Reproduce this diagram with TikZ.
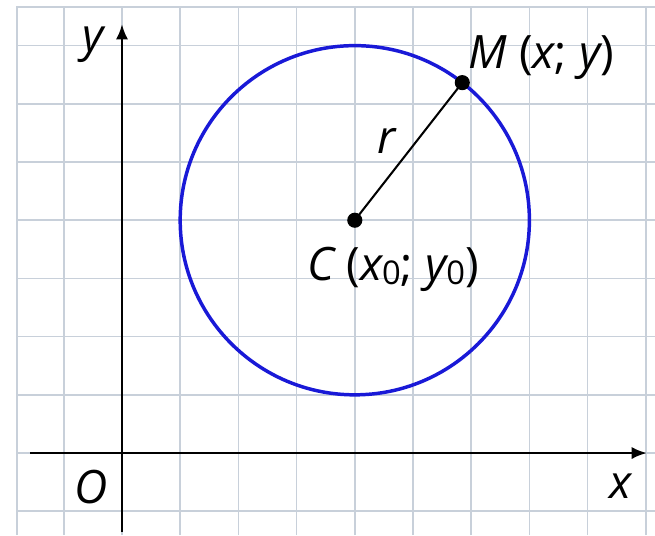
\documentclass[tikz,border=0pt]{standalone}
\usepackage{fontspec}
\setmainfont{Open Sans}
\usetikzlibrary{arrows.meta,calc}
\definecolor{gridc}{RGB}{200,208,218}
\definecolor{circblue}{RGB}{25,25,215}
\newcommand\uptxt[1]{{\upshape #1}}
\newcommand\zsub{{\fontsize{16}{16}\selectfont\upshape\raisebox{-0.12em}{0}}}
\begin{document}
\begin{tikzpicture}[
  gridline/.style={draw=gridc, line width=0.8pt},
  axisline/.style={line width=1.3pt, -{Latex[length=7.5pt,width=6pt]}},
  lbl/.style={font=\fontsize{22.5}{27}\selectfont\itshape, inner sep=0pt},
  dotnode/.style={circle, fill=black, inner sep=0pt, minimum size=0.26cm}
]
\useasboundingbox (-2.096,-1.409) rectangle (9.158,7.784);
% grid
\draw[gridline] (-1.8,-1.409) -- (-1.8,7.66) -- (9.158,7.66);
\foreach \x in {-1,...,9} \draw[gridline] (\x,-1.409) -- (\x,7.66);
\foreach \y in {-1,...,7} \draw[gridline] (-1.8,\y) -- (9.158,\y);
% axes
\coordinate (xs) at (-1.58,0);
\coordinate (xe) at (9.02,0);
\coordinate (ys) at (0,-1.36);
\coordinate (ye) at (0,7.37);
\draw[axisline] (xs) -- (xe);
\draw[axisline] (ys) -- (ye);
% circle
\coordinate (c0) at (4,4);
\draw[circblue, line width=1.7pt] (c0) circle (3);
\node[dotnode] (C) at (c0) {};
\node[dotnode] (M) at ($(c0)+(52:3)$) {};
\draw[line width=1pt] (C.center) -- (M.center);
% labels
\node[lbl, anchor=base west] (lm) at (5.95,6.61) {M \uptxt{(}x\uptxt{;} y\uptxt{)}};
\node[lbl, anchor=base west] (lc) at (3.18,2.97) {C \uptxt{(}x\zsub\uptxt{;} y\zsub\uptxt{)}};
\node[lbl] (lr) at (4.55,5.36) {r};
\node[lbl] (ly) at (-0.5,7.01) {y};
\node[lbl] (lo) at (-0.53,-0.58) {O};
\node[lbl] (lx) at (8.56,-0.57) {x};
\end{tikzpicture}
\end{document}
